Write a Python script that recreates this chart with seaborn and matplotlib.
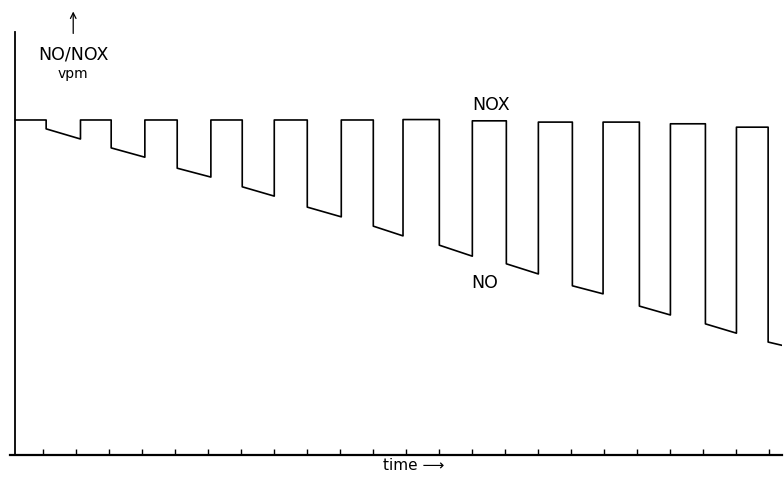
import numpy as np
import pandas as pd
import seaborn as sns
import matplotlib.pyplot as plt

# analyser trace: NOX (high) and NO (low) alternate, arbitrary units
rise_t = [0.17, 2.15, 4.10, 6.10, 8.02, 10.05, 11.92, 14.02, 16.02, 17.98, 20.02, 22.02]
drop_t = [1.11, 3.08, 5.08, 7.05, 9.02, 11.02, 13.02, 15.05, 17.05, 19.08, 21.08, 22.98]
end_t = 23.47
nox = [79.2, 79.2, 79.2, 79.2, 79.2, 79.2, 79.3, 79.0, 78.7, 78.7, 78.3, 77.5]
no_start = [77.1, 72.6, 67.8, 63.4, 58.6, 54.1, 49.6, 45.2, 40.0, 35.2, 31.0, 26.7]
no_end = [74.7, 70.4, 65.7, 61.2, 56.3, 51.8, 47.0, 42.8, 38.1, 33.1, 28.8, 25.8]
tick_t = list(range(1, 24))

tt, vv = [], []
for i in range(len(rise_t)):
    if i > 0:
        tt.append(rise_t[i]); vv.append(no_end[i - 1])
    tt += [rise_t[i], drop_t[i], drop_t[i]]
    vv += [nox[i], nox[i], no_start[i]]
    nxt = rise_t[i + 1] if i + 1 < len(rise_t) else end_t
    tt.append(nxt); vv.append(no_end[i])
df = pd.DataFrame({"t": tt, "v": vv})

sns.set_style("ticks")
plt.rcParams['font.family'] = ['DejaVu Sans']
plt.rcParams['text.color'] = 'black'

fig = plt.figure(figsize=(7.84, 4.8), dpi=100)
ax = fig.add_axes([9.5 / 784, 25 / 480, (782 - 9.5) / 784, 423 / 480])
sns.lineplot(data=df, x="t", y="v", sort=False, estimator=None,
             color="black", linewidth=1.2, ax=ax)

ax.set_xlim(0, 23.4)
ax.set_ylim(0, 100)
for s in ["top", "right"]:
    ax.spines[s].set_visible(False)
ax.spines["left"].set_position(("data", 0.17))
ax.spines["left"].set_linewidth(1.3)
ax.spines["bottom"].set_linewidth(1.6)
ax.spines["left"].set_color("black")
ax.spines["bottom"].set_color("black")
ax.set_xticks(tick_t)
ax.set_xticklabels([])
ax.tick_params(axis="x", direction="in", length=4, width=1, color="black")
ax.set_yticks([])
ax.set_xlabel("")
ax.set_ylabel("")

ax.annotate("", xy=(1.93, 105.5), xytext=(1.93, 99.0), xycoords="data",
            annotation_clip=False,
            arrowprops=dict(arrowstyle="->", color="black", lw=0.9))
ax.text(1.93, 94.6, "NO/NOX", ha="center", va="center", fontsize=12.5, color="black")
ax.text(1.93, 90.0, "vpm", ha="center", va="center", fontsize=10, color="black")
ax.text(14.6, 82.8, "NOX", ha="center", va="center", fontsize=12.5, color="black")
ax.text(14.38, 40.7, "NO", ha="center", va="center", fontsize=12.5, color="black")
ax.text(12.25, -2.6, "time \u27f6", ha="center", va="center", fontsize=11,
        color="black", clip_on=False)

fig.savefig("out.png", dpi=100)
